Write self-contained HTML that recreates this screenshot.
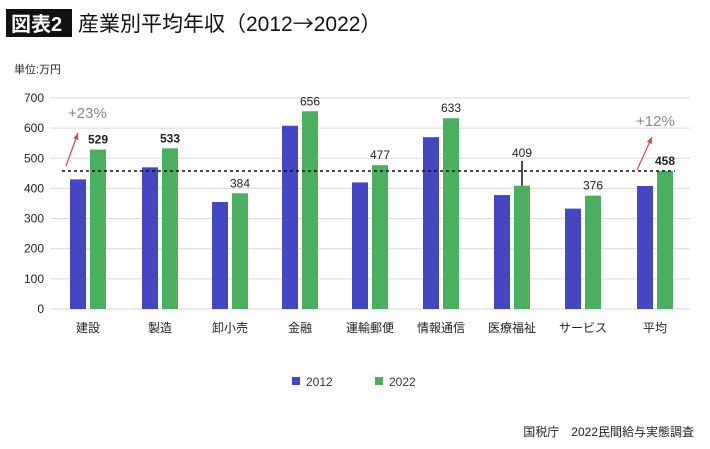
<!DOCTYPE html>
<html><head><meta charset="utf-8"><style>
body{margin:0;background:#fff;width:710px;height:444px;overflow:hidden;font-family:"Liberation Sans","Noto Sans CJK JP",sans-serif}
</style></head><body>
<svg id="c" width="710" height="444" font-family="Liberation Sans, Noto Sans CJK JP, sans-serif">
<rect x="6" y="9" width="66" height="28" fill="#111"/>
<text x="11" y="31" font-size="20" fill="#fff" font-weight="bold">図表2</text>
<text x="78" y="31" font-size="21" fill="#111">産業別平均年収（2012<tspan font-family="Noto Sans CJK JP">→</tspan>2022）</text>
<text x="14" y="73" font-size="11" fill="#222">単位:万円</text>
<g id="grid"></g><g id="bars"></g><g id="over"></g>
<g>
<rect x="292" y="377" width="8" height="8" fill="#4347c2"/>
<text x="306" y="386" font-size="12" fill="#333">2012</text>
<rect x="375" y="377" width="8" height="8" fill="#4caf5f"/>
<text x="389" y="386" font-size="12" fill="#333">2022</text>
</g>
<text x="694" y="436" font-size="12" fill="#222" text-anchor="end">国税庁　2022民間給与実態調査</text>
</svg>
<script>
const categories=["建設","製造","卸小売","金融","運輸郵便","情報通信","医療福祉","サービス","平均"];
const values2012=[430,470,355,608,420,570,378,333,408];
const values2022=[529,533,384,656,477,633,409,376,458];
const yTicks=[0,100,200,300,400,500,600,700];
const avgLine=458;
const NS="http://www.w3.org/2000/svg";
const y0=309,yTop=98,yMax=700,xL=55,xR=690;
const yS=v=>y0-(v/yMax)*(y0-yTop);
const slots=[88,160,230,300,370,441,512,583,655];
const xS=i=>slots[i]!==undefined?slots[i]:xL+(i+0.5)*(xR-xL)/categories.length;
function mk(t,a,p,txt){const e=document.createElementNS(NS,t);for(const k in a)e.setAttribute(k,a[k]);if(txt!==undefined)e.textContent=txt;p.appendChild(e);return e;}
const G=document.getElementById('grid'),B=document.getElementById('bars'),O=document.getElementById('over');
yTicks.forEach(t=>{
 const l=mk('line',{x1:50,x2:xR,y1:yS(t),y2:yS(t),stroke:'#d9d9d9','stroke-width':1},G);
 
 
 const tx=mk('text',{x:44,y:yS(t)+4,'font-size':12,fill:'#222','text-anchor':'end'},G,t);
 
 
});
categories.forEach((c,i)=>{
 const cx=xS(i);
 const b1=mk('rect',{x:cx-18,y:yS(values2012[i]),width:16,height:y0-yS(values2012[i]),fill:'#4347c2'},B);
 
 
 const b2=mk('rect',{x:cx+2,y:yS(values2022[i]),width:16,height:y0-yS(values2022[i]),fill:'#4caf5f'},B);
 
 
 const bold=(i<2||i==8);
 const ly=(i==6)?yS(avgLine)-14:yS(values2022[i])-6;
 const v=mk('text',{x:cx+10,y:ly,'font-size':12,fill:'#222','text-anchor':'middle','font-weight':bold?'bold':'normal'},B,values2022[i]);
 
 
 const cl=mk('text',{x:cx,y:332,'font-size':12,fill:'#222','text-anchor':'middle'},B,c);
 
 
});
const dl=mk('line',{x1:62,x2:675,y1:yS(avgLine),y2:yS(avgLine),stroke:'#111','stroke-width':1.5,'stroke-dasharray':'3,3'},O);


const vl=mk('line',{x1:xS(6)+10,x2:xS(6)+10,y1:yS(avgLine)-10,y2:yS(values2022[6]),stroke:'#111','stroke-width':1.5},O);


[[66,166,78,133],[637,170,652,137]].forEach((a,k)=>{
 const ar=mk('line',{x1:a[0],y1:a[1],x2:a[2],y2:a[3],stroke:'#c0504d','stroke-width':1.2},O);
 
 
 const ang=Math.atan2(a[3]-a[1],a[2]-a[0]);
 const p=[[a[2],a[3]],[a[2]-7*Math.cos(ang-0.4),a[3]-7*Math.sin(ang-0.4)],[a[2]-7*Math.cos(ang+0.4),a[3]-7*Math.sin(ang+0.4)]];
 const h=mk('polygon',{points:p.map(q=>q.join(',')).join(' '),fill:'#c0504d'},O);
 
 
});
const g1=mk('text',{x:68,y:118,'font-size':15,fill:'#888'},O,'+23%');


const g2=mk('text',{x:636,y:126,'font-size':15,fill:'#888'},O,'+12%');


</script>
</body></html>
